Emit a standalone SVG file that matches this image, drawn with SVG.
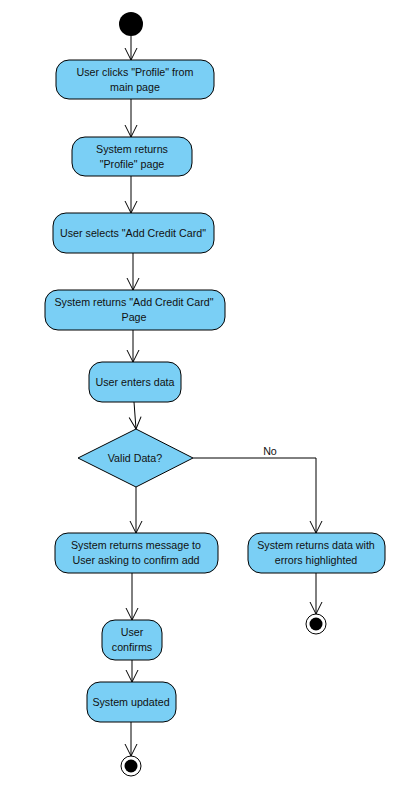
<svg xmlns="http://www.w3.org/2000/svg" width="400" height="799" viewBox="0 0 400 799">
<style>
.n{fill:#7ACFF5;stroke:#000;stroke-width:1}
.t{font-family:"Liberation Sans",Arial,sans-serif;font-size:10.7px;fill:#111;text-anchor:middle}
.c{fill:none;stroke:#000;stroke-width:1}
</style>
<defs>
<marker id="a" viewBox="0 0 14 14" refX="13" refY="7" markerWidth="14" markerHeight="14" markerUnits="userSpaceOnUse" orient="auto">
<path d="M1,1 L13,7 L1,13" fill="none" stroke="#000" stroke-width="1"/>
</marker>
</defs>
<rect width="400" height="799" fill="#fff"/>
<g id="connectors">
<path class="c" d="M131,36 V60" marker-end="url(#a)"/>
<path class="c" d="M131,99 V137" marker-end="url(#a)"/>
<path class="c" d="M131,176 V213" marker-end="url(#a)"/>
<path class="c" d="M133,253 V290" marker-end="url(#a)"/>
<path class="c" d="M133,330 V362" marker-end="url(#a)"/>
<path class="c" d="M134,402 L136,429" marker-end="url(#a)"/>
<path class="c" d="M136,487 V533" marker-end="url(#a)"/>
<path class="c" d="M193,458 H316 V533" marker-end="url(#a)"/>
<text class="t" x="270" y="455">No</text>
<path class="c" d="M132,573 V620" marker-end="url(#a)"/>
<path class="c" d="M132,660 V682" marker-end="url(#a)"/>
<path class="c" d="M131,722 V756" marker-end="url(#a)"/>
<path class="c" d="M316,573 V614" marker-end="url(#a)"/>
</g>
<g id="start"><circle cx="131" cy="24" r="12" fill="#000"/></g>
<g id="n1"><rect class="n" x="56" y="60" width="158" height="39" rx="13"/>
<text class="t" x="135" y="76">User clicks "Profile" from</text><text class="t" x="135" y="91">main page</text></g>
<g id="n2"><rect class="n" x="72" y="137" width="120" height="39" rx="13"/>
<text class="t" x="132" y="153">System returns</text><text class="t" x="132" y="168">"Profile" page</text></g>
<g id="n3"><rect class="n" x="53" y="213" width="161" height="40" rx="13"/>
<text class="t" x="133" y="237">User selects "Add Credit Card"</text></g>
<g id="n4"><rect class="n" x="45" y="290" width="180" height="40" rx="13"/>
<text class="t" x="134" y="306">System returns "Add Credit Card"</text><text class="t" x="134" y="321">Page</text></g>
<g id="n5"><rect class="n" x="89" y="362" width="92" height="40" rx="13"/>
<text class="t" x="135" y="386">User enters data</text></g>
<g id="d1"><path class="n" d="M136,429 L193,458 L136,487 L78,458 Z"/>
<text class="t" x="135" y="462">Valid Data?</text></g>
<g id="n6"><rect class="n" x="55" y="533" width="163" height="40" rx="13"/>
<text class="t" x="136" y="549">System returns message to</text><text class="t" x="136" y="564">User asking to confirm add</text></g>
<g id="n7"><rect class="n" x="248" y="533" width="137" height="40" rx="13"/>
<text class="t" x="316" y="549">System returns data with</text><text class="t" x="316" y="564">errors highlighted</text></g>
<g id="n8"><rect class="n" x="102" y="620" width="60" height="40" rx="13"/>
<text class="t" x="132" y="636">User</text><text class="t" x="132" y="651">confirms</text></g>
<g id="n9"><rect class="n" x="87" y="682" width="89" height="40" rx="13"/>
<text class="t" x="131" y="706">System updated</text></g>
<g id="end1"><circle cx="131" cy="766" r="10" fill="#fff" stroke="#000"/><circle cx="131" cy="766" r="6.5" fill="#000"/></g>
<g id="end2"><circle cx="316" cy="624" r="10" fill="#fff" stroke="#000"/><circle cx="316" cy="624" r="6.5" fill="#000"/></g>
</svg>
